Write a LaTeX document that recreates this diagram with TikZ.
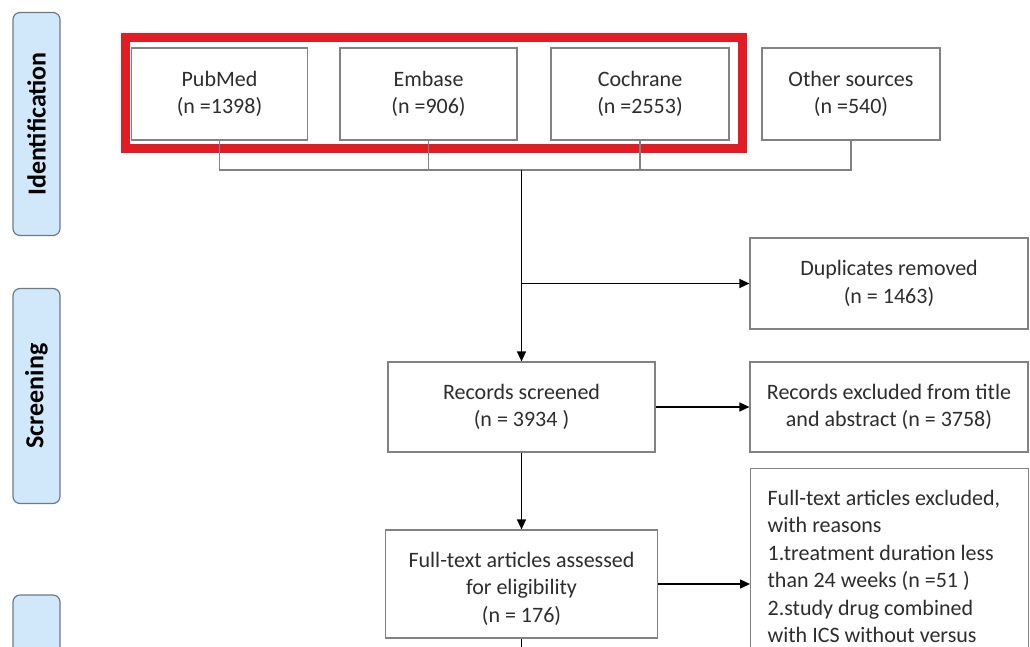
\documentclass[tikz,border=0pt]{standalone}
\usepackage{fontspec}
\setmainfont{Carlito}
\usetikzlibrary{arrows.meta}
\definecolor{redframe}{RGB}{226,28,36}
\definecolor{boxline}{RGB}{130,130,130}
\definecolor{txt}{RGB}{45,45,45}
\definecolor{lblfill}{RGB}{208,232,250}
\definecolor{lblline}{RGB}{110,122,135}
\begin{document}
\begin{tikzpicture}[x=1pt,y=-1pt,
  font=\fontsize{22}{27.5}\selectfont,
  box/.style={draw=boxline, line width=1.2pt, fill=white, text=txt, align=center, inner sep=0pt},
  lbl/.style={draw=lblline, fill=lblfill, line width=1.2pt, rounded corners=7pt,
    rotate=90, minimum height=47pt, inner sep=0pt, text=black,
    font=\fontsize{26}{30}\selectfont\bfseries},
  conn/.style={draw=boxline, line width=1.2pt},
  arr/.style={draw=black, line width=1.4pt, -{Triangle[length=10pt,width=9pt]}},
  plain/.style={draw=black, line width=1.4pt}]
\useasboundingbox (0,0) rectangle (1030,646);
\clip (0,0) rectangle (1030,646);
\fill[white] (0,0) rectangle (1030,646);

% stage labels
\node[lbl, minimum width=223pt] (lid) at (36.5,124) {Identification};
\node[lbl, minimum width=215pt] (lsc) at (36.5,396) {Screening};
\node[lbl, minimum width=230pt] (lel) at (36.5,710) {};

% sources
\node[box, minimum width=176pt, minimum height=92pt] (pub) at (219.5,94) {PubMed\\(n =1398)};
\node[box, minimum width=177pt, minimum height=92pt] (emb) at (428.5,94) {Embase\\(n =906)};
\node[box, minimum width=178pt, minimum height=92pt] (coc) at (640,94) {Cochrane\\(n =2553)};
\node[box, minimum width=178pt, minimum height=92pt] (oth) at (851,94) {Other sources\\(n =540)};

\draw[redframe, line width=9pt] ([shift={(-5,-10)}]pub.north west) rectangle ([shift={(13,8)}]coc.south east);

\coordinate (j) at (521.5,170);
\draw[conn] (pub.south) -- (pub.south |- j) -- (oth.south |- j) -- (oth.south);
\draw[conn] (emb.south) -- (emb.south |- j);
\draw[conn] (coc.south) -- (coc.south |- j);

% flow boxes
\node[box, minimum width=278pt, minimum height=91pt] (dup) at (889,283.5) {Duplicates removed\\(n = 1463)};
\node[box, minimum width=267pt, minimum height=90pt] (rs) at (521.5,407) {Records screened\\(n = 3934 )};
\node[box, minimum width=278pt, minimum height=90pt] (rex) at (889,407) {Records excluded from title\\and abstract (n = 3758)};
\node[box, minimum width=272pt, minimum height=108pt] (fta) at (521.5,584) {\rule{0pt}{25pt}Full-text articles assessed\\for eligibility\\(n = 176)};
\node[box, anchor=north west, align=flush left, text width=244pt, inner xsep=17pt, inner ysep=21.5pt] (fte) at (750,468)
  {Full-text articles excluded,\\with reasons\\1.treatment duration less\\than 24 weeks (n =51 )\\2.study drug combined\\with ICS without versus\\\mbox{}\\\mbox{}};

\coordinate (bot) at (521.5,660);

% connectors
\draw[arr] (j) -- (rs.north);
\draw[arr] (j |- dup.west) -- (dup.west);
\draw[arr] (rs.east) -- (rex.west);
\draw[arr] (rs.south) -- (fta.north);
\draw[arr] (fta.east) -- (fte.west |- fta.east);
\draw[plain] (fta.south) -- (bot);
\end{tikzpicture}
\end{document}
